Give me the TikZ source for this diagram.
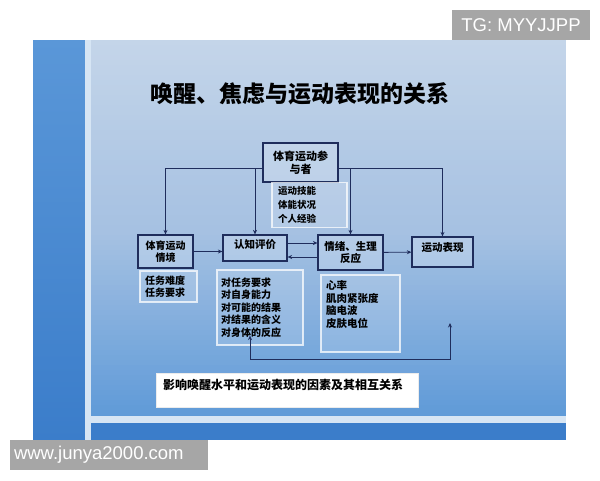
\documentclass[tikz,border=0pt]{standalone}
\usepackage{fontspec}
\setmainfont{Noto Sans CJK SC}
\newfontfamily\wmfont{Liberation Sans}
\usepackage{tikz}
\usetikzlibrary{arrows.meta}

\definecolor{slidetop}{HTML}{C4D5E9}
\definecolor{slidemid}{HTML}{A6C1E2}
\definecolor{slidebot}{HTML}{5E9AD8}
\definecolor{stripblue}{HTML}{5A97D8}
\definecolor{stripdark}{HTML}{3B7DCA}
\definecolor{stripline}{HTML}{D6E5F4}
\definecolor{boxline}{HTML}{1F2D5C}
\definecolor{wmgray}{HTML}{A6A6A6}

\begin{document}
\begin{tikzpicture}[x=1pt, y=-1pt,
    mainbox/.style={rectangle, draw=boxline, line width=1.2pt, fill=white, fill opacity=0.2, text opacity=1, align=center, inner sep=2pt, font=\fontsize{10.5}{12.5}\selectfont\bfseries},
    listbox/.style={rectangle, draw=white, draw opacity=0.75, line width=1.2pt, fill=white, fill opacity=0.15, text opacity=1, align=left, inner ysep=4pt, font=\fontsize{10}{12.5}\selectfont\bfseries},
    arrow/.style={-{Stealth[length=4.5pt, width=4pt]}, draw=boxline, line width=0.9pt},
    biarrow/.style={{Stealth[length=4.5pt, width=4pt]}-{Stealth[length=4.5pt, width=4pt]}, draw=boxline, line width=0.9pt},
    wmark/.style={rectangle, fill=wmgray, text=white, minimum height=30pt, inner sep=0pt, font=\wmfont\fontsize{18.5}{20}\selectfont}
]
\useasboundingbox (0,0) rectangle (600,480);

% Slide background
\fill[white] (0,0) rectangle (600,480);
\foreach \i in {0,...,37} {
  \pgfmathsetmacro\pc{100-\i*2.7}
  \fill[slidetop!\pc!slidemid] (33,40+5*\i) rectangle (566,45.6+5*\i);
}
\foreach \i in {38,...,75} {
  \pgfmathsetmacro\pc{100-(\i-38)*2.7}
  \fill[slidemid!\pc!slidebot] (33,40+5*\i) rectangle (566,45.6+5*\i);
}
\shade[top color=stripblue, bottom color=stripdark] (33,40) rectangle (85,440);
\fill[stripline] (85,40) rectangle (91,440);
\fill[stripline] (91,416) rectangle (566,423);
\fill[stripdark] (91,423) rectangle (566,440);

% Title
\node[font=\fontsize{23}{26}\selectfont\bfseries] (title) at (300,94) {唤醒、焦虑与运动表现的关系};

% Define the nodes for each factor
\node[mainbox, minimum width=75pt, minimum height=39pt, font=\fontsize{11}{12.5}\selectfont\bfseries] (part) at (300.5,162.5) {体育运动参\\与者};
\node[listbox, text width=63pt, inner xsep=6pt, minimum height=44pt, font=\fontsize{9.5}{13.7}\selectfont\bfseries] (skills) at (309.5,205) {运动技能\\体能状况\\个人经验};
\node[mainbox, minimum width=55pt, minimum height=33pt, font=\fontsize{10}{12}\selectfont\bfseries] (context) at (165.5,251.5) {体育运动\\情境};
\node[mainbox, minimum width=64pt, minimum height=26pt, text depth=9pt] (appraisal) at (255,248) {认知评价};
\node[mainbox, minimum width=65pt, minimum height=35pt] (emotion) at (350.5,252.5) {情绪、生理\\反应};
\node[mainbox, minimum width=61pt, minimum height=30pt, text depth=9pt] (perf) at (442.5,252) {运动表现};

% Lists under the boxes
\node[listbox, text width=47pt, inner xsep=5pt, minimum height=31pt, font=\fontsize{10}{11.7}\selectfont\bfseries] (demands) at (168.5,286.5) {任务难度\\任务要求};
\node[listbox, text width=78pt, inner xsep=4pt, minimum height=75pt] (evalbox) at (260,307.5) {对任务要求\\对自身能力\\对可能的结果\\对结果的含义\\对身体的反应};
\node[listbox, text width=69pt, inner xsep=5pt, minimum height=77pt, text depth=57pt, font=\fontsize{10.5}{12.7}\selectfont\bfseries] (physio) at (360.5,313.5) {心率\\肌肉紧张度\\脑电波\\皮肤电位};

% Draw arrows from the participant
\draw[arrow] ([yshift=-5.5pt]part.west) -| (context.north);
\draw[arrow] ([yshift=-5.5pt]part.west) -| (appraisal.north);
\draw[arrow] ([yshift=-5.5pt]part.east) -| (perf.north);
\draw[arrow] ([yshift=-5.5pt]part.east) -| (emotion.north);

% Arrows along the middle row
\draw[arrow] (context) -- (context -| appraisal.west);
\draw[arrow] ([yshift=5pt]appraisal.east) -- ([yshift=5pt]appraisal.east -| emotion.west);
\draw[arrow] ([yshift=-9pt]appraisal.east -| emotion.west) -- ([yshift=-9pt]appraisal.east);
\draw[arrow] (emotion) -- (perf);

% Feedback loop at the bottom
\coordinate (fbright) at (450,323);
\coordinate (fbbase) at (0,359);
\draw[biarrow] ([xshift=-10pt, yshift=10pt]evalbox.south) -- ([xshift=-10pt]evalbox.south |- fbbase) -| (fbright);

% Caption
\node[rectangle, fill=white, draw=white!85!gray, minimum width=262pt, minimum height=34pt, text width=248pt, inner xsep=7pt, align=left, text depth=11.5pt, font=\fontsize{12}{14}\selectfont\bfseries] (caption) at (287,390) {影响唤醒水平和运动表现的因素及其相互关系};

% Watermarks
\node[wmark, minimum width=138pt] (tg) at (521,25) {TG: MYYJJPP};
\node[wmark, text width=190pt, inner xsep=4pt, align=left] (site) at (109,455) {www.junya2000.com};

\end{tikzpicture}
\end{document}
